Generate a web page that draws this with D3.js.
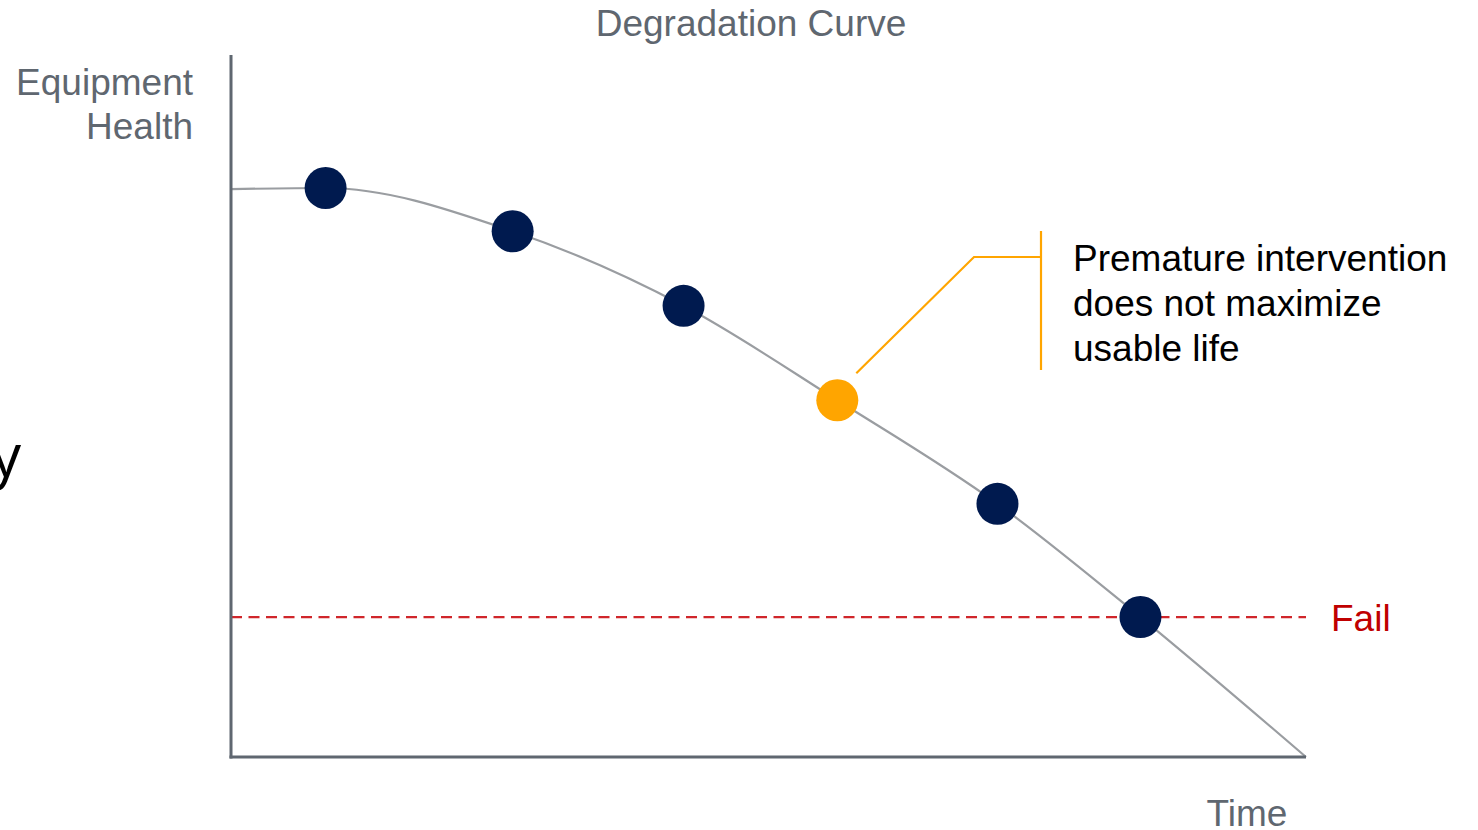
<!DOCTYPE html>
<html>
<head>
<meta charset="utf-8">
<script src="https://cdn.jsdelivr.net/npm/d3@7"></script>
<style>
  html, body { margin: 0; padding: 0; background: #ffffff; }
  svg { display: block; }
</style>
</head>
<body>
<svg id="chart" width="1478" height="830"></svg>
<script>
// ---- data ----
const curveTime   = [0, 8.8, 26.2, 42.1, 56.4, 71.3, 84.6, 100];
const curveHealth = [99.8, 100, 92.4, 79.3, 62.7, 44.5, 24.6, 0];
const dotTime     = [8.8, 26.2, 42.1, 56.4, 71.3, 84.6];
const dotHealth   = [100, 92.4, 79.3, 62.7, 44.5, 24.6];
const dotKind     = ["normal", "normal", "normal", "premature", "normal", "normal"];
const failLevel   = 24.6;
const titleText   = "Degradation Curve";
const yLabelLines = ["Equipment", "Health"];
const xLabelText  = "Time";
const failText    = "Fail";
const noteLines   = ["Premature intervention", "does not maximize", "usable life"];

// ---- layout ----
const svg = d3.select("#chart");
const x = d3.scaleLinear().domain([0, 100]).range([231, 1306]);
const y = d3.scaleLinear().domain([0, 100]).range([757, 188]);
const axisColor = "#5f6770";
const font = "'Liberation Sans', Arial, sans-serif";
const fs = 37;

// partial cut-off text at far left
svg.append("text")
  .attr("x", 21).attr("y", 477)
  .attr("text-anchor", "end")
  .attr("font-family", "'Open Sans', sans-serif")
  .attr("font-size", 60)
  .attr("fill", "#000")
  .text("y");

// title
svg.append("text")
  .attr("x", 751).attr("y", 36)
  .attr("text-anchor", "middle")
  .attr("font-family", font).attr("font-size", fs)
  .attr("fill", axisColor)
  .text(titleText);

// y label
svg.append("text")
  .attr("text-anchor", "end")
  .attr("font-family", font).attr("font-size", fs)
  .attr("fill", axisColor)
  .selectAll("tspan").data(yLabelLines).join("tspan")
  .attr("x", 193).attr("y", (d, i) => 95 + i * 44)
  .text(d => d);

// x label
svg.append("text")
  .attr("x", 1247).attr("y", 826)
  .attr("text-anchor", "middle")
  .attr("font-family", font).attr("font-size", fs)
  .attr("fill", axisColor)
  .text(xLabelText);

// fail line
svg.append("line")
  .attr("x1", x(0)).attr("x2", x(100))
  .attr("y1", y(failLevel)).attr("y2", y(failLevel))
  .attr("stroke", "#d0262b").attr("stroke-width", 2.2)
  .attr("stroke-dasharray", "11,6.5");

svg.append("text")
  .attr("x", 1331).attr("y", y(failLevel) + 14)
  .attr("font-family", font).attr("font-size", fs)
  .attr("fill", "#c00000")
  .text(failText);

// degradation curve
const pts = curveTime.map((t, i) => [t, curveHealth[i]]);
svg.append("path")
  .datum(pts)
  .attr("fill", "none")
  .attr("stroke", "#9a9da1")
  .attr("stroke-width", 2.2)
  .attr("d", d3.line().x(d => x(d[0])).y(d => y(d[1])).curve(d3.curveMonotoneX));

// axes
svg.append("line")
  .attr("x1", 231).attr("x2", 231).attr("y1", 55).attr("y2", 758.5)
  .attr("stroke", axisColor).attr("stroke-width", 3);
svg.append("line")
  .attr("x1", 229.5).attr("x2", 1306).attr("y1", 757).attr("y2", 757)
  .attr("stroke", axisColor).attr("stroke-width", 3);

// annotation leader
const pIdx = dotKind.indexOf("premature");
const px = x(dotTime[pIdx]), py = y(dotHealth[pIdx]);
svg.append("polyline")
  .attr("points", [[px + 19, py - 27], [974, 257], [1041, 257]].map(p => p.join(",")).join(" "))
  .attr("fill", "none").attr("stroke", "#ffa500").attr("stroke-width", 2.2);
svg.append("line")
  .attr("x1", 1041).attr("x2", 1041).attr("y1", 231).attr("y2", 370)
  .attr("stroke", "#ffa500").attr("stroke-width", 2.2);

svg.append("text")
  .attr("font-family", font).attr("font-size", fs)
  .attr("fill", "#000")
  .selectAll("tspan").data(noteLines).join("tspan")
  .attr("x", 1073).attr("y", (d, i) => 271 + i * 45)
  .text(d => d);

// dots
svg.selectAll("circle.dot")
  .data(dotTime.map((t, i) => ({t, h: dotHealth[i], k: dotKind[i]})))
  .join("circle")
  .attr("class", "dot")
  .attr("cx", d => x(d.t)).attr("cy", d => y(d.h))
  .attr("r", 21)
  .attr("fill", d => d.k === "premature" ? "#ffa500" : "#001a4f");
</script>
</body>
</html>
